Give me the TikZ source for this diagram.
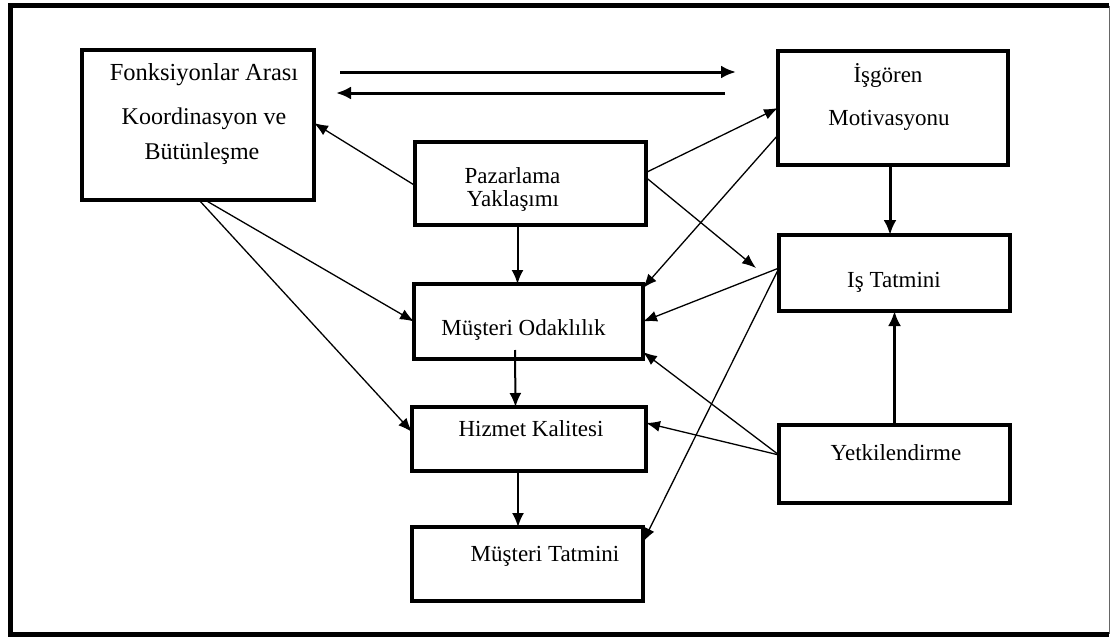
\documentclass[tikz,border=0pt]{standalone}
\usepackage{fontspec}
\setmainfont{Liberation Serif}
\usetikzlibrary{arrows.meta}
\begin{document}
\begin{tikzpicture}[x=1pt,y=-1pt,
  box/.style={draw,line width=4pt,inner sep=0pt,outer sep=0pt,rectangle},
  lbl/.style={anchor=base,inner sep=0pt,font=\fontsize{23}{27}\selectfont},
  thin/.style={line width=1.3pt,-{Latex[length=14pt,width=11pt]}},
  mid/.style={line width=2pt,-{Latex[length=14pt,width=12pt]}},
  thick/.style={line width=3pt,-{Latex[length=15pt,width=13pt]}}]
\useasboundingbox (0,0) rectangle (1111,637);
% frame
\draw[line width=5pt] (1109,5.5) -- (10,5.5) -- (10,634) -- (1109,634);
\draw[line width=1.5pt,black!60] (1109.5,5.5) -- (1109.5,634);
% boxes
\node[box,minimum width=232pt,minimum height=150pt] (fk) at (198,125) {};
\node[box,minimum width=231pt,minimum height=83pt] (pz) at (530.5,183.5) {};
\node[box,minimum width=230pt,minimum height=114pt] (ig) at (893,108) {};
\node[box,minimum width=231pt,minimum height=76pt] (it) at (894.5,273) {};
\node[box,minimum width=229pt,minimum height=75pt] (mo) at (528.5,321.5) {};
\node[box,minimum width=234pt,minimum height=64pt] (hk) at (529,439) {};
\node[box,minimum width=231pt,minimum height=74pt] (mt) at (527.5,564) {};
\node[box,minimum width=231pt,minimum height=78pt] (yk) at (894.5,464) {};
% labels
\node[lbl,font=\fontsize{24.5}{28}\selectfont] (t1) at (204,80) {Fonksiyonlar Arası};
\node[lbl,font=\fontsize{24}{28}\selectfont] (t2) at (204,124) {Koordinasyon ve};
\node[lbl,font=\fontsize{24}{28}\selectfont] (t3) at (202,159) {Bütünleşme};
\node[lbl] (t4) at (512.5,183) {Pazarlama};
\node[lbl] (t5) at (513,206) {Yaklaşımı};
\node[lbl] (t6) at (888,82) {İşgören};
\node[lbl] (t7) at (889,125) {Motivasyonu};
\node[lbl] (t8) at (894,287) {Iş Tatmini};
\node[lbl] (t9) at (523.5,335) {Müşteri Odaklılık};
\node[lbl] (t10) at (531,436) {Hizmet Kalitesi};
\node[lbl] (t11) at (545,561) {Müşteri Tatmini};
\node[lbl] (t12) at (896,460) {Yetkilendirme};
% free-end coordinates
\coordinate (a1) at (340,72);
\coordinate (a2) at (736,72);
\coordinate (b1) at (725,93);
\coordinate (b2) at (336,93);
\coordinate (c1) at (756,268);
% top arrows
\draw[thick] (a1) -- (a2);
\draw[thick] (b1) -- (b2);
% vertical arrows
\draw[mid] ([xshift=-13pt]pz.south) -- ([xshift=-11pt]mo.north);
\draw[mid] ([xshift=-13.5pt,yshift=9pt]mo.south) -- ([xshift=-13.5pt]hk.north);
\draw[mid] ([xshift=-11pt]hk.south) -- ([xshift=-9.5pt]mt.north);
\draw[thick] ([xshift=-3pt]ig.south) -- ([xshift=-4.5pt]it.north);
\draw[thick] (yk.north) -- (it.south);
% diagonal arrows
\draw[thin] ([yshift=-2pt]pz.west) -- ([yshift=2pt]fk.east);
\draw[thin] ([xshift=7pt]fk.south) -- (mo.west);
\draw[thin] ([xshift=1pt]fk.south) -- ([yshift=7pt]hk.west);
\draw[thin] ([yshift=11pt]pz.east) -- (ig.west);
\draw[thin] ([yshift=6pt]pz.east) -- (c1);
\draw[thin] ([yshift=-27pt]ig.west) -- ([yshift=-4pt]mo.north east);
\draw[thin] ([yshift=5pt]it.west) -- (mo.east);
\draw[thin] ([yshift=5pt]it.west) -- ([yshift=22pt]mt.east);
\draw[thin] ([yshift=9pt]yk.west) -- ([yshift=7pt]mo.south east);
\draw[thin] ([yshift=9pt]yk.west) -- ([yshift=16pt]hk.east);
\end{tikzpicture}
\end{document}
